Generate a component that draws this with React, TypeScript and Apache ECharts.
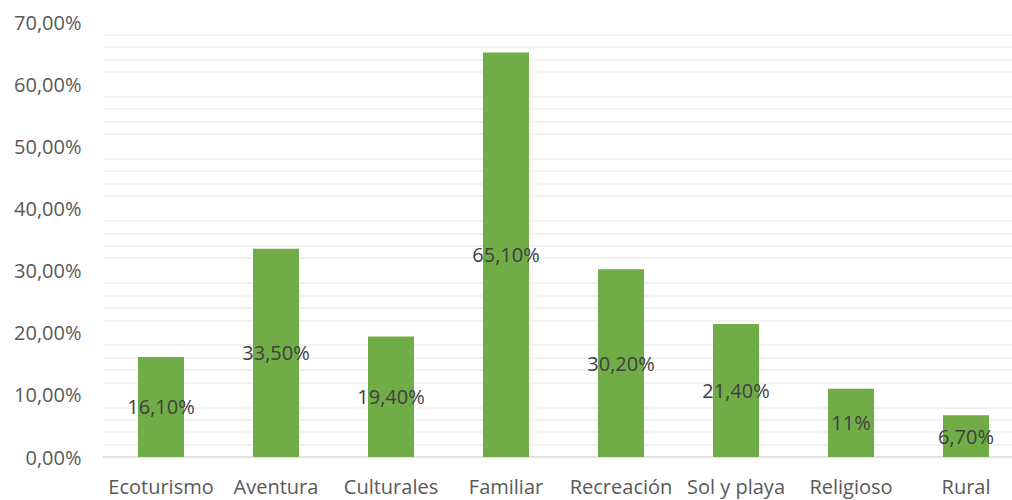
import React, { useEffect, useRef } from "react";
import * as echarts from "echarts";

const categories = ["Ecoturismo", "Aventura", "Culturales", "Familiar", "Recreación", "Sol y playa", "Religioso", "Rural"];
const values = [16.1, 33.5, 19.4, 65.1, 30.2, 21.4, 11, 6.7];
const valueLabels = ["16,10%", "33,50%", "19,40%", "65,10%", "30,20%", "21,40%", "11%", "6,70%"];
const yTicks = [0, 10, 20, 30, 40, 50, 60, 70];

export default function App() {
  const ref = useRef<HTMLDivElement>(null);
  useEffect(() => {
    if (!ref.current) return;
    const chart = echarts.init(ref.current, null, { renderer: "svg" });
    const font = "'Open Sans', Calibri, sans-serif";
    chart.setOption({
      animation: false,
      backgroundColor: "#ffffff",
      grid: { left: 103.5, top: 22, right: 0.5, bottom: 43, containLabel: false },
      xAxis: {
        type: "category",
        data: categories,
        axisTick: { show: false },
        axisLine: { lineStyle: { color: "#d9d9d9", width: 1.5 } },
        axisLabel: { color: "#595959", fontSize: 20, fontFamily: font, margin: 19, interval: 0 },
      },
      yAxis: {
        type: "value",
        min: yTicks[0],
        max: yTicks[yTicks.length - 1],
        interval: 10,
        axisLine: { show: false },
        axisTick: { show: false },
        splitLine: { show: false },
        minorTick: { show: false, splitNumber: 5 },
        minorSplitLine: { show: true, lineStyle: { color: "#eeeeee", width: 1.5 } },
        axisLabel: {
          color: "#595959",
          fontSize: 20,
          fontFamily: font,
          margin: 22,
          formatter: (v: number) => v.toFixed(2).replace(".", ",") + "%",
        },
      },
      series: [
        {
          type: "bar",
          data: values,
          barWidth: 46,
          itemStyle: { color: "#70ad47" },
          label: {
            show: true,
            position: "inside",
            color: "#404040",
            fontSize: 20,
            fontFamily: font,
            formatter: (p: any) => valueLabels[p.dataIndex],
          },
        },
      ],
    });
    return () => chart.dispose();
  }, []);
  return (
    <div style={{ position: "fixed", left: 0, top: 0, width: 1012, height: 500, overflow: "hidden" }}>
      <div ref={ref} style={{ width: 1024, height: 500 }} />
    </div>
  );
}
